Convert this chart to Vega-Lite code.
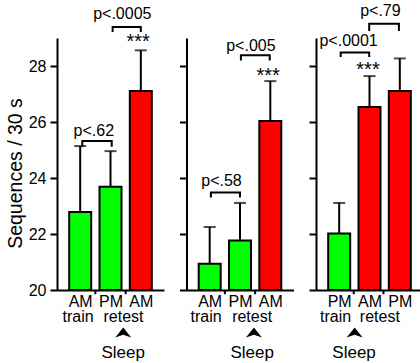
{
  "$schema": "https://vega.github.io/schema/vega-lite/v6.json",
  "padding": {"left": 5, "top": 2, "right": 0, "bottom": 0},
  "config": {
    "font": "Liberation Sans",
    "view": {"stroke": null},
    "axis": {
      "grid": false,
      "domainColor": "black",
      "domainWidth": 2,
      "tickColor": "black",
      "tickWidth": 2,
      "labelColor": "black",
      "labelFontSize": 16,
      "titleColor": "black"
    }
  },
  "datasets": {
    "bars": [
      {"panel": 1, "slot": 1, "session": "AM train", "phase": "before sleep", "mean": 22.79, "upper": 25.14},
      {"panel": 1, "slot": 2, "session": "PM retest", "phase": "before sleep", "mean": 23.69, "upper": 24.96},
      {"panel": 1, "slot": 3, "session": "AM retest", "phase": "after sleep", "mean": 27.11, "upper": 28.56},
      {"panel": 2, "slot": 1, "session": "AM train", "phase": "before sleep", "mean": 20.94, "upper": 22.25},
      {"panel": 2, "slot": 2, "session": "PM retest", "phase": "before sleep", "mean": 21.77, "upper": 23.11},
      {"panel": 2, "slot": 3, "session": "AM retest", "phase": "after sleep", "mean": 26.04, "upper": 27.46},
      {"panel": 3, "slot": 1, "session": "PM train", "phase": "before sleep", "mean": 22.02, "upper": 23.11},
      {"panel": 3, "slot": 2, "session": "AM retest", "phase": "after sleep", "mean": 26.54, "upper": 27.64},
      {"panel": 3, "slot": 3, "session": "PM retest", "phase": "after sleep", "mean": 27.11, "upper": 28.27}
    ],
    "brackets": [
      {"panel": 1, "id": "a", "order": 1, "pos": 1.07, "level": 25.12},
      {"panel": 1, "id": "a", "order": 2, "pos": 1.07, "level": 25.32},
      {"panel": 1, "id": "a", "order": 3, "pos": 2.04, "level": 25.32},
      {"panel": 1, "id": "a", "order": 4, "pos": 2.04, "level": 25.12},
      {"panel": 1, "id": "b", "order": 1, "pos": 2.07, "level": 29.21},
      {"panel": 1, "id": "b", "order": 2, "pos": 2.07, "level": 29.39},
      {"panel": 1, "id": "b", "order": 3, "pos": 3.0, "level": 29.39},
      {"panel": 1, "id": "b", "order": 4, "pos": 3.0, "level": 29.21},
      {"panel": 2, "id": "a", "order": 1, "pos": 1.04, "level": 23.3},
      {"panel": 2, "id": "a", "order": 2, "pos": 1.04, "level": 23.48},
      {"panel": 2, "id": "a", "order": 3, "pos": 2.0, "level": 23.48},
      {"panel": 2, "id": "a", "order": 4, "pos": 2.0, "level": 23.3},
      {"panel": 2, "id": "b", "order": 1, "pos": 2.03, "level": 28.2},
      {"panel": 2, "id": "b", "order": 2, "pos": 2.03, "level": 28.38},
      {"panel": 2, "id": "b", "order": 3, "pos": 2.98, "level": 28.38},
      {"panel": 2, "id": "b", "order": 4, "pos": 2.98, "level": 28.2},
      {"panel": 3, "id": "a", "order": 1, "pos": 1.05, "level": 28.32},
      {"panel": 3, "id": "a", "order": 2, "pos": 1.05, "level": 28.48},
      {"panel": 3, "id": "a", "order": 3, "pos": 1.99, "level": 28.48},
      {"panel": 3, "id": "a", "order": 4, "pos": 1.99, "level": 28.32},
      {"panel": 3, "id": "b", "order": 1, "pos": 1.99, "level": 29.25},
      {"panel": 3, "id": "b", "order": 2, "pos": 1.99, "level": 29.51},
      {"panel": 3, "id": "b", "order": 3, "pos": 2.97, "level": 29.51},
      {"panel": 3, "id": "b", "order": 4, "pos": 2.97, "level": 29.25}
    ],
    "notes": [
      {"panel": 1, "kind": "p", "pos": 1.45, "level": 25.5, "text": "p<.62"},
      {"panel": 1, "kind": "p", "pos": 2.39, "level": 29.67, "text": "p<.0005"},
      {"panel": 1, "kind": "stars", "pos": 2.91, "level": 28.66, "text": "***"},
      {"panel": 1, "kind": "sub", "pos": 0.93, "level": 18.84, "text": "train"},
      {"panel": 1, "kind": "sub", "pos": 2.43, "level": 18.84, "text": "retest"},
      {"panel": 1, "kind": "sleep", "pos": 2.42, "level": 17.57, "text": "Sleep"},
      {"panel": 1, "kind": "arrow", "pos": 2.42, "level": 18.475, "text": ""},
      {"panel": 2, "kind": "p", "pos": 1.39, "level": 23.7, "text": "p<.58"},
      {"panel": 2, "kind": "p", "pos": 2.36, "level": 28.54, "text": "p<.005"},
      {"panel": 2, "kind": "stars", "pos": 2.93, "level": 27.44, "text": "***"},
      {"panel": 2, "kind": "sub", "pos": 0.88, "level": 18.84, "text": "train"},
      {"panel": 2, "kind": "sub", "pos": 2.4, "level": 18.84, "text": "retest"},
      {"panel": 2, "kind": "sleep", "pos": 2.4, "level": 17.57, "text": "Sleep"},
      {"panel": 2, "kind": "arrow", "pos": 2.46, "level": 18.475, "text": ""},
      {"panel": 3, "kind": "p", "pos": 1.31, "level": 28.71, "text": "p<.0001"},
      {"panel": 3, "kind": "p", "pos": 2.36, "level": 29.79, "text": "p<.79"},
      {"panel": 3, "kind": "stars", "pos": 1.95, "level": 27.66, "text": "***"},
      {"panel": 3, "kind": "sub", "pos": 0.88, "level": 18.84, "text": "train"},
      {"panel": 3, "kind": "sub", "pos": 2.34, "level": 18.84, "text": "retest"},
      {"panel": 3, "kind": "sleep", "pos": 1.49, "level": 17.57, "text": "Sleep"},
      {"panel": 3, "kind": "arrow", "pos": 1.51, "level": 18.475, "text": ""}
    ],
    "dividers": [
      {"panel": 1, "pos": 1.5}, {"panel": 1, "pos": 2.5},
      {"panel": 2, "pos": 1.5}, {"panel": 2, "pos": 2.5},
      {"panel": 3, "pos": 1.48}, {"panel": 3, "pos": 2.46}
    ]
  },
  "bounds": "flush",
  "spacing": 22.5,
  "hconcat": [
    {
      "width": 107,
      "height": 252,
      "layer": [
        {
          "data": {"name": "bars"},
          "transform": [{"filter": "datum.panel == 1"}],
          "mark": {"type": "bar", "width": 22, "stroke": "black", "strokeWidth": 2},
          "encoding": {
            "x": {"field": "slot", "type": "quantitative", "scale": {"domain": [0.4, 3.6], "nice": false, "zero": false},
              "axis": {"values": [1, 2, 3], "ticks": false, "tickSize": 0, "labelPadding": 16, "labelBaseline": "alphabetic", "labelExpr": "['', 'AM', 'PM', 'AM'][datum.value]", "title": null}},
            "y": {"field": "mean", "type": "quantitative", "scale": {"domain": [20, 29], "nice": false, "zero": false},
              "axis": {"values": [20, 22, 24, 26, 28], "tickSize": 7, "labelPadding": 4, "title": "Sequences / 30 s", "titleFontSize": 19.5, "titleFontWeight": "normal", "titlePadding": 3, "titleY": 135}},
            "y2": {"datum": 20},
            "color": {"field": "phase", "type": "nominal", "scale": {"domain": ["before sleep", "after sleep"], "range": ["#00ff00", "#ff0000"]}, "legend": null}
          }
        },
        {
          "data": {"name": "bars"},
          "transform": [{"filter": "datum.panel == 1"}],
          "mark": {"type": "rule", "color": "black", "strokeWidth": 2},
          "encoding": {"x": {"field": "slot", "type": "quantitative"}, "y": {"field": "mean", "type": "quantitative"}, "y2": {"field": "upper"}}
        },
        {
          "data": {"name": "bars"},
          "transform": [{"filter": "datum.panel == 1"}],
          "mark": {"type": "tick", "orient": "horizontal", "color": "black", "size": 12, "thickness": 2},
          "encoding": {"x": {"field": "slot", "type": "quantitative"}, "y": {"field": "upper", "type": "quantitative"}}
        },
        {
          "data": {"name": "brackets"},
          "transform": [{"filter": "datum.panel == 1"}],
          "mark": {"type": "line", "color": "black", "strokeWidth": 2, "clip": false},
          "encoding": {"x": {"field": "pos", "type": "quantitative"}, "y": {"field": "level", "type": "quantitative"}, "detail": {"field": "id"}, "order": {"field": "order"}}
        },
        {
          "data": {"name": "dividers"},
          "transform": [{"filter": "datum.panel == 1"}],
          "mark": {"type": "rule", "color": "black", "strokeWidth": 2},
          "encoding": {"x": {"field": "pos", "type": "quantitative"}, "y": {"datum": 20}, "y2": {"datum": 19.85}}
        },
        {
          "data": {"name": "notes"},
          "transform": [{"filter": "datum.panel == 1 && datum.kind == 'p'"}],
          "mark": {"type": "text", "fontSize": 16, "baseline": "alphabetic", "color": "black"},
          "encoding": {"x": {"field": "pos", "type": "quantitative"}, "y": {"field": "level", "type": "quantitative"}, "text": {"field": "text"}}
        },
        {
          "data": {"name": "notes"},
          "transform": [{"filter": "datum.panel == 1 && datum.kind == 'stars'"}],
          "mark": {"type": "text", "fontSize": 20, "baseline": "alphabetic", "color": "black"},
          "encoding": {"x": {"field": "pos", "type": "quantitative"}, "y": {"field": "level", "type": "quantitative"}, "text": {"field": "text"}}
        },
        {
          "data": {"name": "notes"},
          "transform": [{"filter": "datum.panel == 1 && datum.kind == 'sub'"}],
          "mark": {"type": "text", "fontSize": 16, "baseline": "alphabetic", "color": "black"},
          "encoding": {"x": {"field": "pos", "type": "quantitative"}, "y": {"field": "level", "type": "quantitative"}, "text": {"field": "text"}}
        },
        {
          "data": {"name": "notes"},
          "transform": [{"filter": "datum.panel == 1 && datum.kind == 'sleep'"}],
          "mark": {"type": "text", "fontSize": 17, "baseline": "alphabetic", "color": "black"},
          "encoding": {"x": {"field": "pos", "type": "quantitative"}, "y": {"field": "level", "type": "quantitative"}, "text": {"field": "text"}}
        },
        {
          "data": {"name": "notes"},
          "transform": [{"filter": "datum.panel == 1 && datum.kind == 'arrow'"}],
          "mark": {"type": "point", "shape": "M0,-0.65L1,0.6L0,0.25L-1,0.6Z", "size": 256, "filled": true, "color": "black", "opacity": 1},
          "encoding": {"x": {"field": "pos", "type": "quantitative"}, "y": {"field": "level", "type": "quantitative"}}
        }
      ]
    },
    {
      "width": 107,
      "height": 252,
      "layer": [
        {
          "data": {"name": "bars"},
          "transform": [{"filter": "datum.panel == 2"}],
          "mark": {"type": "bar", "width": 22, "stroke": "black", "strokeWidth": 2},
          "encoding": {
            "x": {"field": "slot", "type": "quantitative", "scale": {"domain": [0.4, 3.6], "nice": false, "zero": false},
              "axis": {"values": [1, 2, 3], "ticks": false, "tickSize": 0, "labelPadding": 16, "labelBaseline": "alphabetic", "labelExpr": "['', 'AM', 'PM', 'AM'][datum.value]", "title": null}},
            "y": {"field": "mean", "type": "quantitative", "scale": {"domain": [20, 29], "nice": false, "zero": false},
              "axis": {"values": [20, 22, 24, 26, 28], "tickSize": 7, "labels": false, "title": null}},
            "y2": {"datum": 20},
            "color": {"field": "phase", "type": "nominal", "scale": {"domain": ["before sleep", "after sleep"], "range": ["#00ff00", "#ff0000"]}, "legend": null}
          }
        },
        {
          "data": {"name": "bars"},
          "transform": [{"filter": "datum.panel == 2"}],
          "mark": {"type": "rule", "color": "black", "strokeWidth": 2},
          "encoding": {"x": {"field": "slot", "type": "quantitative"}, "y": {"field": "mean", "type": "quantitative"}, "y2": {"field": "upper"}}
        },
        {
          "data": {"name": "bars"},
          "transform": [{"filter": "datum.panel == 2"}],
          "mark": {"type": "tick", "orient": "horizontal", "color": "black", "size": 12, "thickness": 2},
          "encoding": {"x": {"field": "slot", "type": "quantitative"}, "y": {"field": "upper", "type": "quantitative"}}
        },
        {
          "data": {"name": "brackets"},
          "transform": [{"filter": "datum.panel == 2"}],
          "mark": {"type": "line", "color": "black", "strokeWidth": 2, "clip": false},
          "encoding": {"x": {"field": "pos", "type": "quantitative"}, "y": {"field": "level", "type": "quantitative"}, "detail": {"field": "id"}, "order": {"field": "order"}}
        },
        {
          "data": {"name": "dividers"},
          "transform": [{"filter": "datum.panel == 2"}],
          "mark": {"type": "rule", "color": "black", "strokeWidth": 2},
          "encoding": {"x": {"field": "pos", "type": "quantitative"}, "y": {"datum": 20}, "y2": {"datum": 19.85}}
        },
        {
          "data": {"name": "notes"},
          "transform": [{"filter": "datum.panel == 2 && datum.kind == 'p'"}],
          "mark": {"type": "text", "fontSize": 16, "baseline": "alphabetic", "color": "black"},
          "encoding": {"x": {"field": "pos", "type": "quantitative"}, "y": {"field": "level", "type": "quantitative"}, "text": {"field": "text"}}
        },
        {
          "data": {"name": "notes"},
          "transform": [{"filter": "datum.panel == 2 && datum.kind == 'stars'"}],
          "mark": {"type": "text", "fontSize": 20, "baseline": "alphabetic", "color": "black"},
          "encoding": {"x": {"field": "pos", "type": "quantitative"}, "y": {"field": "level", "type": "quantitative"}, "text": {"field": "text"}}
        },
        {
          "data": {"name": "notes"},
          "transform": [{"filter": "datum.panel == 2 && datum.kind == 'sub'"}],
          "mark": {"type": "text", "fontSize": 16, "baseline": "alphabetic", "color": "black"},
          "encoding": {"x": {"field": "pos", "type": "quantitative"}, "y": {"field": "level", "type": "quantitative"}, "text": {"field": "text"}}
        },
        {
          "data": {"name": "notes"},
          "transform": [{"filter": "datum.panel == 2 && datum.kind == 'sleep'"}],
          "mark": {"type": "text", "fontSize": 17, "baseline": "alphabetic", "color": "black"},
          "encoding": {"x": {"field": "pos", "type": "quantitative"}, "y": {"field": "level", "type": "quantitative"}, "text": {"field": "text"}}
        },
        {
          "data": {"name": "notes"},
          "transform": [{"filter": "datum.panel == 2 && datum.kind == 'arrow'"}],
          "mark": {"type": "point", "shape": "M0,-0.65L1,0.6L0,0.25L-1,0.6Z", "size": 256, "filled": true, "color": "black", "opacity": 1},
          "encoding": {"x": {"field": "pos", "type": "quantitative"}, "y": {"field": "level", "type": "quantitative"}}
        }
      ]
    },
    {
      "width": 107,
      "height": 252,
      "layer": [
        {
          "data": {"name": "bars"},
          "transform": [{"filter": "datum.panel == 3"}],
          "mark": {"type": "bar", "width": 22, "stroke": "black", "strokeWidth": 2},
          "encoding": {
            "x": {"field": "slot", "type": "quantitative", "scale": {"domain": [0.4, 3.6], "nice": false, "zero": false},
              "axis": {"values": [1, 2, 3], "ticks": false, "tickSize": 0, "labelPadding": 16, "labelBaseline": "alphabetic", "labelExpr": "['', 'PM', 'AM', 'PM'][datum.value]", "title": null}},
            "y": {"field": "mean", "type": "quantitative", "scale": {"domain": [20, 29], "nice": false, "zero": false},
              "axis": {"values": [20, 22, 24, 26, 28], "tickSize": 7, "labels": false, "title": null}},
            "y2": {"datum": 20},
            "color": {"field": "phase", "type": "nominal", "scale": {"domain": ["before sleep", "after sleep"], "range": ["#00ff00", "#ff0000"]}, "legend": null}
          }
        },
        {
          "data": {"name": "bars"},
          "transform": [{"filter": "datum.panel == 3"}],
          "mark": {"type": "rule", "color": "black", "strokeWidth": 2},
          "encoding": {"x": {"field": "slot", "type": "quantitative"}, "y": {"field": "mean", "type": "quantitative"}, "y2": {"field": "upper"}}
        },
        {
          "data": {"name": "bars"},
          "transform": [{"filter": "datum.panel == 3"}],
          "mark": {"type": "tick", "orient": "horizontal", "color": "black", "size": 12, "thickness": 2},
          "encoding": {"x": {"field": "slot", "type": "quantitative"}, "y": {"field": "upper", "type": "quantitative"}}
        },
        {
          "data": {"name": "brackets"},
          "transform": [{"filter": "datum.panel == 3"}],
          "mark": {"type": "line", "color": "black", "strokeWidth": 2, "clip": false},
          "encoding": {"x": {"field": "pos", "type": "quantitative"}, "y": {"field": "level", "type": "quantitative"}, "detail": {"field": "id"}, "order": {"field": "order"}}
        },
        {
          "data": {"name": "dividers"},
          "transform": [{"filter": "datum.panel == 3"}],
          "mark": {"type": "rule", "color": "black", "strokeWidth": 2},
          "encoding": {"x": {"field": "pos", "type": "quantitative"}, "y": {"datum": 20}, "y2": {"datum": 19.85}}
        },
        {
          "data": {"name": "notes"},
          "transform": [{"filter": "datum.panel == 3 && datum.kind == 'p'"}],
          "mark": {"type": "text", "fontSize": 16, "baseline": "alphabetic", "color": "black"},
          "encoding": {"x": {"field": "pos", "type": "quantitative"}, "y": {"field": "level", "type": "quantitative"}, "text": {"field": "text"}}
        },
        {
          "data": {"name": "notes"},
          "transform": [{"filter": "datum.panel == 3 && datum.kind == 'stars'"}],
          "mark": {"type": "text", "fontSize": 20, "baseline": "alphabetic", "color": "black"},
          "encoding": {"x": {"field": "pos", "type": "quantitative"}, "y": {"field": "level", "type": "quantitative"}, "text": {"field": "text"}}
        },
        {
          "data": {"name": "notes"},
          "transform": [{"filter": "datum.panel == 3 && datum.kind == 'sub'"}],
          "mark": {"type": "text", "fontSize": 16, "baseline": "alphabetic", "color": "black"},
          "encoding": {"x": {"field": "pos", "type": "quantitative"}, "y": {"field": "level", "type": "quantitative"}, "text": {"field": "text"}}
        },
        {
          "data": {"name": "notes"},
          "transform": [{"filter": "datum.panel == 3 && datum.kind == 'sleep'"}],
          "mark": {"type": "text", "fontSize": 17, "baseline": "alphabetic", "color": "black"},
          "encoding": {"x": {"field": "pos", "type": "quantitative"}, "y": {"field": "level", "type": "quantitative"}, "text": {"field": "text"}}
        },
        {
          "data": {"name": "notes"},
          "transform": [{"filter": "datum.panel == 3 && datum.kind == 'arrow'"}],
          "mark": {"type": "point", "shape": "M0,-0.65L1,0.6L0,0.25L-1,0.6Z", "size": 256, "filled": true, "color": "black", "opacity": 1},
          "encoding": {"x": {"field": "pos", "type": "quantitative"}, "y": {"field": "level", "type": "quantitative"}}
        }
      ]
    }
  ]
}
